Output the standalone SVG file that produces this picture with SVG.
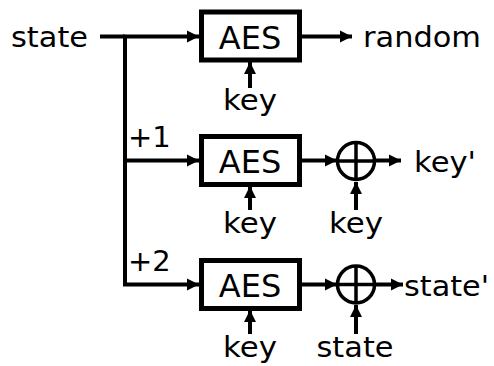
<svg xmlns="http://www.w3.org/2000/svg" width="494" height="366" viewBox="0 0 494 366">
<style>
text{font-family:"DejaVu Sans","Liberation Sans",sans-serif;fill:#000}
.lbl{font-size:29px}
.aes{font-size:32px;text-anchor:middle}
.c{text-anchor:middle}
.box{fill:#fff;stroke:#000;stroke-width:5}
.xor{fill:#fff;stroke:#000;stroke-width:3.5}
.ln{fill:none;stroke:#000;stroke-width:4}
.ar{fill:none;stroke:#000;stroke-width:4;marker-end:url(#ah)}
</style>
<defs>
<marker id="ah" markerUnits="userSpaceOnUse" markerWidth="14" markerHeight="14" refX="12" refY="6" orient="auto" viewBox="0 0 14 12">
<path d="M0,0 L12,6 L0,12 Z" fill="#000"/>
</marker>
</defs>
<g id="connectors">
<path class="ln" d="M100,36.5 H125"/>
<path class="ar" d="M123,36.5 H199"/>
<path class="ar" d="M125,36.5 V284.5 H199"/>
<path class="ar" d="M125,160.5 H199"/>
<path class="ar" d="M300,36.5 H352"/>
<path class="ar" d="M250,88 V62"/>
<path class="ar" d="M300,160.5 H337"/>
<path class="ar" d="M374,160.5 H401"/>
<path class="ar" d="M250,210 V186"/>
<path class="ar" d="M356,210 V182"/>
<path class="ar" d="M300,284.5 H337"/>
<path class="ar" d="M374,284.5 H403"/>
<path class="ar" d="M250,334 V310"/>
<path class="ar" d="M356,334 V305"/>
</g>
<g id="state-in"><text class="lbl" x="11" y="47" textLength="77" lengthAdjust="spacingAndGlyphs">state</text></g>
<g id="aes1"><rect class="box" x="201.5" y="12" width="98" height="48"/><text class="aes" x="250" y="49">AES</text></g>
<g id="key1"><text class="lbl c" x="250" y="110" textLength="54" lengthAdjust="spacingAndGlyphs">key</text></g>
<g id="random"><text class="lbl" x="363" y="47" textLength="118" lengthAdjust="spacingAndGlyphs">random</text></g>
<g id="plus1"><text class="lbl" x="128" y="147">+1</text></g>
<g id="aes2"><rect class="box" x="201.5" y="136.5" width="98" height="48"/><text class="aes" x="250" y="173">AES</text></g>
<g id="key2"><text class="lbl c" x="250" y="233" textLength="54" lengthAdjust="spacingAndGlyphs">key</text></g>
<g id="xor1"><circle class="xor" cx="356" cy="161" r="18.5"/><path class="xor" d="M337.5,161 H374.5 M356,142.5 V179.5"/></g>
<g id="key3"><text class="lbl c" x="356" y="233" textLength="54" lengthAdjust="spacingAndGlyphs">key</text></g>
<g id="keyp"><text class="lbl" x="414" y="172" textLength="62" lengthAdjust="spacingAndGlyphs">key'</text></g>
<g id="plus2"><text class="lbl" x="128" y="271">+2</text></g>
<g id="aes3"><rect class="box" x="201.5" y="260.5" width="98" height="48"/><text class="aes" x="250" y="297">AES</text></g>
<g id="key4"><text class="lbl c" x="250" y="357" textLength="54" lengthAdjust="spacingAndGlyphs">key</text></g>
<g id="xor2"><circle class="xor" cx="356" cy="284.5" r="18.5"/><path class="xor" d="M337.5,284.5 H374.5 M356,266 V303"/></g>
<g id="state-x"><text class="lbl c" x="355" y="357" textLength="77" lengthAdjust="spacingAndGlyphs">state</text></g>
<g id="statep"><text class="lbl" x="404" y="296" textLength="85" lengthAdjust="spacingAndGlyphs">state'</text></g>
</svg>
